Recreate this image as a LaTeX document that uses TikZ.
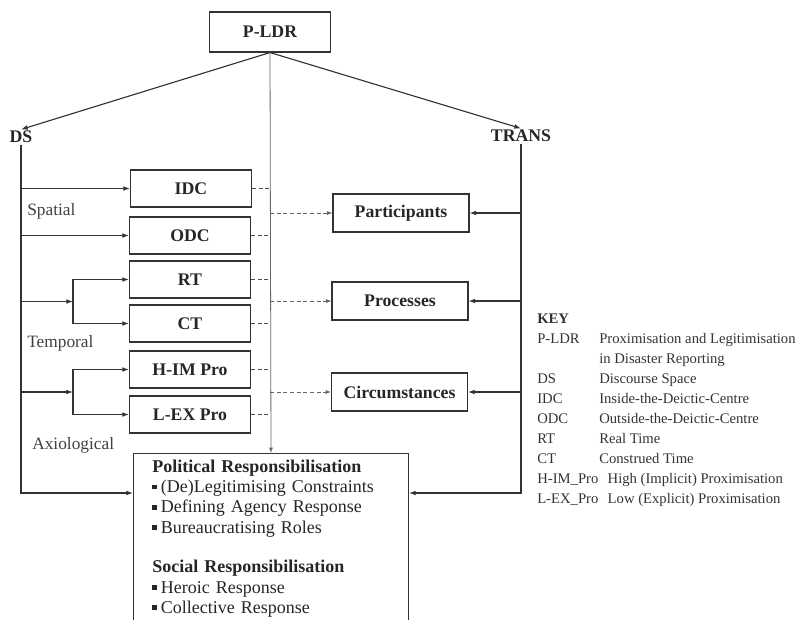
\documentclass[tikz,border=0pt]{standalone}
\usepackage{fontspec}
\setmainfont{Liberation Serif}
\usetikzlibrary{positioning,arrows.meta,calc}
\newcommand{\sqbul}{\rule[2.6pt]{3.4pt}{3.4pt}\hspace{3pt}}
\newcommand{\keyrow}[2]{\makebox[46.5pt][l]{#1}#2}

\begin{document}
\begin{tikzpicture}[x=0.75pt, y=-0.75pt,
    box/.style={draw=black!80, line width=0.8pt, minimum width=90.75pt, minimum height=27.75pt,
      inner sep=2pt, font=\fontsize{13.3}{15}\selectfont\bfseries, text=black!85},
    rbox/.style={box, minimum width=102pt, minimum height=28.5pt},
    head/.style={inner sep=1pt, font=\fontsize{13.3}{15}\selectfont\bfseries, text=black!85},
    lbl/.style={anchor=west, inner sep=0pt, font=\fontsize{13}{14}\selectfont, text=black!75},
    wire/.style={draw=black!80, line width=0.85pt, -{Latex[length=5pt,width=3.6pt]}},
    link/.style={draw=black!60, line width=0.6pt, -{Latex[length=4pt,width=3pt]}},
    stub/.style={draw=black!70, line width=0.7pt, dash pattern=on 3pt off 2pt},
    feed/.style={draw=black!60, line width=0.6pt, densely dashed, -{Latex[length=4pt,width=3pt]}}]
    \useasboundingbox (0,0) rectangle (809,619);

    \node[box, minimum height=30pt] (pldr) at (270,32) {P-LDR};
    \node[head] (ds) at (21,137) {DS};
    \node[head] (trans) at (521,136) {TRANS};

    \draw[wire] (pldr.south) -- (ds.north);
    \draw[wire] (pldr.south) -- (trans.north);

    % discourse space
    \node[box] (idc) at (191,188.5) {IDC};
    \node[box] (odc) at (190,235.5) {ODC};
    \node[box] (rt) at (190,279.5) {RT};
    \node[box] (ct) at (190,323.5) {CT};
    \node[box] (him) at (190,369.5) {H-IM Pro};
    \node[box] (lex) at (190,414.5) {L-EX Pro};

    \node[lbl] (spatial) at (27,211) {Spatial};
    \node[lbl] (temporal) at (27,343) {Temporal};
    \node[lbl] (axio) at (32,445) {Axiological};

    % transitivity
    \node[rbox] (part) at (401,213) {Participants};
    \node[rbox] (proc) at (400,301) {Processes};
    \node[rbox] (circ) at (399.5,392) {Circumstances};

    \node[draw=black!80, line width=0.8pt, anchor=north, minimum width=206.25pt, text width=178pt,
      inner xsep=14pt, inner ysep=5pt, align=left, font=\fontsize{13.5}{15.1}\selectfont, text=black!85]
      (resp) at (271,453) {\textbf{Political Responsibilisation}\\
      \sqbul (De)Legitimising Constraints\\
      \sqbul Defining Agency Response\\
      \sqbul Bureaucratising Roles\\[14.8pt]
      \textbf{Social Responsibilisation}\\
      \sqbul Heroic Response\\
      \sqbul Collective Response};

    \draw[link] (pldr.south) -- (resp.north);

    % DS branches
    \coordinate (tfork) at (73,301.5);
    \coordinate (afork) at (73,392);
    \draw[wire] (ds.south) |- (idc.west);
    \draw[wire] (ds.south) |- (odc.west);
    \draw[wire] (ds.south |- tfork) -- (tfork);
    \draw[wire] (tfork) |- (rt.west);
    \draw[wire] (tfork) |- (ct.west);
    \draw[wire] (ds.south |- afork) -- (afork);
    \draw[wire] (afork) |- (him.west);
    \draw[wire] (afork) |- (lex.west);
    \draw[wire] (ds.south) |- ($(resp.north west)+(0,40)$);

    % TRANS branches
    \draw[wire] (trans.south) |- (part.east);
    \draw[wire] (trans.south) |- (proc.east);
    \draw[wire] (trans.south) |- (circ.east);
    \draw[wire] (trans.south) |- ($(resp.north east)+(0,40)$);

    \foreach \n in {idc,odc,rt,ct,him,lex}
        \draw[stub] (\n.east) -- (\n.east -| pldr.south);
    \foreach \n in {part,proc,circ}
        \draw[feed] (\n.west -| pldr.south) -- (\n.west);

    % key
    \node[anchor=north west, align=left, inner sep=0pt, font=\fontsize{11}{15}\selectfont, text=black!80]
      (key) at (537,314) {\textbf{KEY}\\
      \keyrow{P-LDR}{Proximisation and Legitimisation}\\
      \keyrow{}{in Disaster Reporting}\\
      \keyrow{DS}{Discourse Space}\\
      \keyrow{IDC}{Inside-the-Deictic-Centre}\\
      \keyrow{ODC}{Outside-the-Deictic-Centre}\\
      \keyrow{RT}{Real Time}\\
      \keyrow{CT}{Construed Time}\\
      H-IM\_Pro\hspace{7pt}High (Implicit) Proximisation\\
      L-EX\_Pro\hspace{7pt}Low (Explicit) Proximisation};
\end{tikzpicture}
\end{document}
